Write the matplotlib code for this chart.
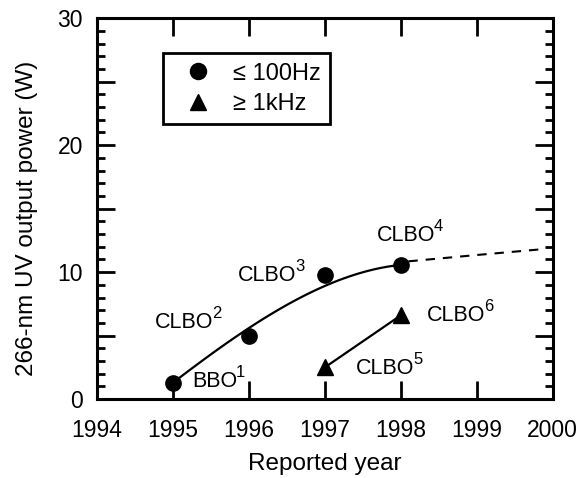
#!/usr/bin/env python3
# -*- coding: utf-8 -*-

import numpy as np
import matplotlib
matplotlib.use("Agg")
import matplotlib.pyplot as plt
import matplotlib.transforms as mtransforms
from matplotlib.ticker import FixedLocator, MultipleLocator, FuncFormatter

plt.rcParams['font.family'] = ['Liberation Sans', 'DejaVu Sans']

# low repetition rate (<= 100 Hz) results
low_years = [1995, 1996, 1997, 1998]
low_power = [1.3, 5.0, 9.8, 10.6]
low_labels = ['BBO', 'CLBO', 'CLBO', 'CLBO']
low_refs = ['1', '2', '3', '4']

# high repetition rate (>= 1 kHz) results
high_years = [1997, 1998]
high_power = [2.5, 6.6]
high_labels = ['CLBO', 'CLBO']
high_refs = ['5', '6']

# trend curve
trend_years = [1995, 1995.5, 1996, 1996.5, 1997, 1997.5, 1998]
trend_power = [1.3, 3.5, 5.6, 7.4, 9.0, 9.9, 10.6]
# extrapolation (dashed)
extra_years = [1998.1, 1999.0, 1999.85]
extra_power = [10.85, 11.35, 11.8]

# label anchor points (left edge of text, vertical center)
label_pos = [(1995.25, 1.35), (1994.76, 6.0), (1995.86, 9.75), (1997.68, 12.9),
             (1997.41, 2.4), (1998.34, 6.6)]


fig = plt.figure(figsize=(5.77, 4.78), dpi=100)
ax = fig.add_axes([0.168, 0.165, 0.79, 0.797])

# smooth trend line
coef = np.polyfit(trend_years, trend_power, 3)
xs = np.linspace(trend_years[0], trend_years[-1], 100)
ax.plot(xs, np.polyval(coef, xs), color='black', lw=1.6)
ax.plot(extra_years, extra_power, color='black', lw=1.5, linestyle=(0, (4.5, 3.8)))
ax.plot(high_years, high_power, color='black', lw=1.6)

ax.plot(low_years, low_power, 'o', color='black', ms=11, label='≤ 100Hz', zorder=5)
ax.plot(high_years, high_power, '^', color='black', ms=11, label='≥ 1kHz', zorder=5)

names = low_labels + high_labels
refs = low_refs + high_refs
for (x, y), nm, rf in zip(label_pos, names, refs):
    t = ax.text(x, y, nm, fontsize=15.5, ha='left', va='center')
    # superscript reference number, hung off the top-right of the name
    ax.annotate(rf, xy=(1, 1), xycoords=t, xytext=(-1.0, -1.0),
                textcoords='offset points', fontsize=12, ha='left', va='center')

ax.set_xlim(1994, 2000)
ax.set_ylim(0, 30)
ax.xaxis.set_major_locator(MultipleLocator(1))
ax.yaxis.set_major_locator(FixedLocator([0, 5, 10, 15, 20, 25, 30]))
ax.yaxis.set_minor_locator(MultipleLocator(1))
ax.yaxis.set_major_formatter(FuncFormatter(lambda v, p: '%d' % v if v % 10 == 0 else ''))
ax.xaxis.set_major_formatter(FuncFormatter(lambda v, p: '%d' % v))

ax.tick_params(which='both', direction='in', top=True, right=True, width=2,
               labelsize=16.5)
ax.tick_params(axis='x', which='major', length=13, pad=14)
ax.tick_params(axis='y', which='major', length=13, pad=10)
ax.tick_params(axis='y', which='minor', length=6)
for t in ax.yaxis.get_major_ticks():
    if t.get_loc() % 10 != 0:
        t.tick1line.set_markersize(10)
        t.tick2line.set_markersize(10)
for s in ax.spines.values():
    s.set_linewidth(2.2)

# last year label sits a bit left of its tick so it stays inside the image
last = ax.xaxis.get_major_ticks()[-1]
last.label1.set_transform(last.label1.get_transform() +
                          mtransforms.ScaledTranslation(-7 / 72, 0, fig.dpi_scale_trans))

ax.set_xlabel('Reported year', fontsize=17.5, labelpad=8)
ax.set_ylabel('266-nm UV output power (W)', fontsize=17.5)
ax.yaxis.set_label_coords(-0.13, 0.475)

leg = ax.legend(loc='upper left', bbox_to_anchor=(0.145, 0.908), borderaxespad=0,
                fontsize=17, frameon=True, fancybox=False, framealpha=1,
                edgecolor='black', handlelength=2.2, handletextpad=0.35,
                borderpad=0.4, labelspacing=0.35, numpoints=1, markerscale=1.05)
leg.get_frame().set_linewidth(2)

plt.savefig('out.png', dpi=100)
